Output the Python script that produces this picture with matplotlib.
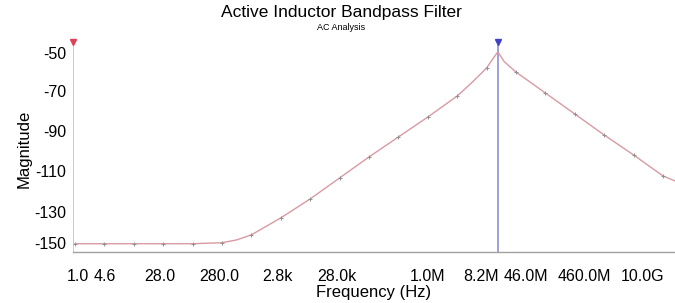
import numpy as np
import matplotlib
matplotlib.use("Agg")
import matplotlib.pyplot as plt
from matplotlib.transforms import ScaledTranslation

plt.rcParams['font.family'] = ['Liberation Sans', 'DejaVu Sans']

# ---- data ----
freq_hz = [1.0, 3.16, 10.0, 31.6, 100.0, 316.0, 562.0, 1.0e3, 3.16e3, 1.0e4, 3.16e4,
           1.0e5, 3.16e5, 1.0e6, 3.16e6, 5.62e6, 1.0e7, 1.26e7, 1.55e7, 2.0e7,
           3.16e7, 1.0e8, 3.16e8, 1.0e9, 3.16e9, 1.0e10, 1.6e10]
magnitude = [-145.9, -145.9, -145.9, -145.9, -145.9, -145.4, -144.0, -141.5, -133.1,
             -123.7, -113.3, -102.9, -93.0, -83.1, -72.7, -66.0, -58.8, -54.5, -50.8,
             -55.7, -60.8, -71.2, -81.6, -92.0, -101.9, -112.3, -114.8]
marker_freq = [1.0, 3.16, 10.0, 31.6, 100.0, 316.0, 1.0e3, 3.16e3, 1.0e4, 3.16e4,
               1.0e5, 3.16e5, 1.0e6, 3.16e6, 1.0e7, 3.16e7, 1.0e8, 3.16e8, 1.0e9,
               3.16e9, 1.0e10]
marker_mag = [-145.9, -145.9, -145.9, -145.9, -145.9, -145.4, -141.5, -133.1, -123.7,
              -113.3, -102.9, -93.0, -83.1, -72.7, -58.8, -60.8, -71.2, -81.6, -92.0,
              -101.9, -112.3]
xtick_vals = [1.0, 4.6, 28.0, 280.0, 2.8e3, 2.8e4, 1.0e6, 8.2e6, 4.6e7, 4.6e8, 1.0e10]
xtick_labels = ['1.0', '4.6', '28.0', '280.0', '2.8k', '28.0k', '1.0M', '8.2M',
                '46.0M', '460.0M', '10.0G']
ytick_vals = [-50, -70, -90, -110, -130, -150]
cursor_left = 0.925
cursor_peak = 1.55e7

fig = plt.figure(figsize=(6.75, 3.03), dpi=100)
ax = fig.add_axes([73/675, 51/303, 602/675, 207/303])

ax.plot(freq_hz, magnitude, color='#d89aa3', lw=1.0, zorder=3)
ax.plot(marker_freq, marker_mag, ls='none', marker='+', ms=3, mew=0.7,
        color='#909090', zorder=4)

ax.set_xscale('log')
ax.set_xlim(0.925, 1.6e10)
ax.set_ylim(-150, -47.4)

# cursors
ax.axvline(cursor_left, color='#7fd8ea', lw=1.2, zorder=2)
ax.axvline(cursor_peak, color='#8f8fd8', lw=1.2, zorder=2)
ax.plot([cursor_left], [-46.0], marker='v', ms=4, color='#e0405a', clip_on=False, zorder=5)
ax.plot([cursor_peak], [-46.0], marker='v', ms=5, color='#4040c8', clip_on=False, zorder=5)

for s in ['top', 'right', 'left']:
    ax.spines[s].set_visible(False)
ax.spines['bottom'].set_color('#a0a0a0')
ax.spines['bottom'].set_linewidth(1.0)

ax.set_xticks(xtick_vals)
ax.set_xticklabels(xtick_labels, fontsize=11.5)
ax.set_yticks(ytick_vals)
ax.set_yticklabels([str(v) for v in ytick_vals], fontsize=11.5)
ax.tick_params(axis='x', which='major', length=0, pad=12)
ax.tick_params(axis='x', which='minor', length=2, color='#909090')
ax.tick_params(axis='y', length=0, pad=5)
ax.minorticks_on()
ax.yaxis.set_minor_locator(plt.NullLocator())

# shift crowded / edge labels like the reference
xshift = {0: 3, 1: -9, 10: -20}
for i, lab in enumerate(ax.get_xticklabels()):
    if i in xshift:
        lab.set_transform(lab.get_transform() + ScaledTranslation(xshift[i]/100, 0, fig.dpi_scale_trans))
yshift = {0: -3, 5: 9}
for i, lab in enumerate(ax.get_yticklabels()):
    if i in yshift:
        lab.set_transform(lab.get_transform() + ScaledTranslation(0, yshift[i]/100, fig.dpi_scale_trans))

ax.set_xlabel('Frequency (Hz)', fontsize=12, labelpad=1)
ax.set_ylabel('Magnitude', fontsize=12, labelpad=2)

fig.text(341/675, 1 - 12/303, 'Active Inductor Bandpass Filter', ha='center', va='center', fontsize=12.5)
fig.text(341/675, 1 - 27/303, 'AC Analysis', ha='center', va='center', fontsize=6.5)

fig.savefig('out.png', dpi=100)
